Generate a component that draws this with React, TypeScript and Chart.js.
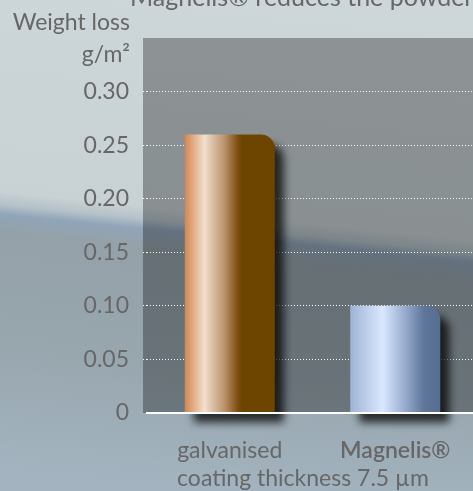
import React, { useEffect, useRef } from "react";
import { Chart, registerables } from "chart.js";

Chart.register(...registerables);

const categories = ["galvanised", "Magnelis®"];
const weightLoss = [0.26, 0.1];
const yMax = 0.35;
const yStep = 0.05;
const titleText = "Magnelis® reduces the powdering";
const yTitleLines = ["Weight loss", "g/m²"];
const xTitleText = "coating thickness 7.5 µm";

const FONT = "Lato, sans-serif";
const TEXT = "#676767";
const BAR_PCT = 0.544;
const FS = 23;

const barStops: [number, string][][] = [
  [
    [0, "#d4864e"],
    [0.22, "#f1dfcf"],
    [0.45, "#b88f66"],
    [0.6, "#7a4a0a"],
    [0.64, "#6e4500"],
    [1, "#6d4400"],
  ],
  [
    [0, "#9fb3d5"],
    [0.36, "#dae8ff"],
    [0.62, "#94a8ca"],
    [0.82, "#5e7699"],
    [1, "#556e92"],
  ],
];

const bgPlugin = {
  id: "bg",
  beforeDraw(chart: any) {
    const { ctx, width, height, chartArea } = chart;
    ctx.save();
    const g = ctx.createLinearGradient(260, 0, 210, height);
    g.addColorStop(0, "#cdd6d8");
    g.addColorStop(0.44, "#c8d1d3");
    g.addColorStop(0.465, "#b5c2c9");
    g.addColorStop(0.485, "#90a5b8");
    g.addColorStop(0.52, "#94a1a9");
    g.addColorStop(0.75, "#98a6ae");
    g.addColorStop(1, "#a3b4c0");
    ctx.fillStyle = g;
    ctx.fillRect(0, 0, width, height);
    ctx.fillStyle = "rgba(0,0,0,0.31)";
    ctx.fillRect(chartArea.left - 4, chartArea.top, width, chartArea.bottom - chartArea.top);
    ctx.restore();
  },
  afterDraw(chart: any) {
    const { ctx, chartArea } = chart;
    ctx.save();
    ctx.fillStyle = TEXT;
    ctx.font = `25px ${FONT}`;
    ctx.textBaseline = "alphabetic";
    ctx.textAlign = "left";
    ctx.fillText(titleText, 130, 6);
    ctx.font = `${FS}px ${FONT}`;
    ctx.textAlign = "right";
    ctx.fillText(yTitleLines[0], 130, 30);
    ctx.fillText(yTitleLines[1], 130, 62);
    ctx.textAlign = "center";
    ctx.textBaseline = "middle";
    ctx.fillText(xTitleText, 303, chartArea.bottom + 66);
    ctx.restore();
  },
};

const shadowPlugin = {
  id: "barShadow",
  beforeDatasetsDraw(chart: any) {
    const ctx = chart.ctx;
    ctx.save();
    ctx.shadowColor = "rgba(0,0,0,0.75)";
    ctx.shadowBlur = 8;
    ctx.shadowOffsetX = 9;
    ctx.shadowOffsetY = 10;
  },
  afterDatasetsDraw(chart: any) {
    chart.ctx.restore();
  },
};

function barFill(c: any) {
  const i = c.dataIndex ?? 0;
  const chart = c.chart;
  const xs = chart.scales && chart.scales.x;
  const stops = barStops[i % barStops.length];
  if (!xs || !chart.chartArea) return stops[0][1];
  const cx = xs.getPixelForValue(i);
  const half = ((xs.width / categories.length) * BAR_PCT) / 2;
  const g = chart.ctx.createLinearGradient(cx - half, 0, cx + half, 0);
  stops.forEach(([o, col]) => g.addColorStop(o, col));
  return g;
}

const hidden = (c: any) =>
  c.tick && (c.tick.value === 0 || c.tick.value >= yMax - 1e-9);

export default function App() {
  const ref = useRef<HTMLCanvasElement>(null);
  useEffect(() => {
    const el = ref.current;
    if (!el) return;
    const chart = new Chart(el, {
      type: "bar",
      data: {
        labels: categories,
        datasets: [
          {
            data: weightLoss,
            backgroundColor: barFill,
            borderWidth: 0,
            borderRadius: { topLeft: 0, topRight: 14, bottomLeft: 0, bottomRight: 0 },
            borderSkipped: false,
            barPercentage: BAR_PCT,
            categoryPercentage: 1,
            clip: false as any,
          },
        ],
      },
      options: {
        responsive: false,
        animation: false,
        devicePixelRatio: 1,
        layout: { padding: { top: 38, right: 2, left: 0, bottom: 0 } },
        plugins: {
          legend: { display: false },
          tooltip: { enabled: false },
          title: { display: false },
        },
        scales: {
          x: {
            grid: { display: false },
            border: { display: true, color: "#ffffff", width: 2, z: 1 },
            ticks: {
              padding: 16,
              color: TEXT,
              font: (c: any) => ({
                family: FONT,
                size: FS,
                weight: c.index === 1 ? "600" : "400",
              }),
            },
            afterFit: (s: any) => {
              s.height = 78;
            },
          },
          y: {
            min: 0,
            max: yMax,
            border: { display: false, dash: [1, 2] },
            grid: {
              color: (c: any) => (hidden(c) ? "rgba(0,0,0,0)" : "rgba(255,255,255,0.95)"),
              tickColor: (c: any) => (hidden(c) ? "rgba(0,0,0,0)" : "rgba(255,255,255,0.95)"),
              lineWidth: 1,
              tickBorderDash: [1, 2],
              drawTicks: true,
              tickLength: 4,
            } as any,
            ticks: {
              stepSize: yStep,
              padding: 14,
              color: TEXT,
              font: { family: FONT, size: FS },
              callback: (v: any) => {
                const n = Number(v);
                if (n >= yMax - 1e-9) return "";
                return n === 0 ? "0" : n.toFixed(2);
              },
            },
            afterFit: (s: any) => {
              s.width = 147;
            },
          },
        },
      },
      plugins: [bgPlugin, shadowPlugin],
    });
    return () => chart.destroy();
  }, []);
  return (
    <div
      style={{
        position: "fixed",
        left: 0,
        top: 0,
        width: 473,
        height: 491,
        overflow: "hidden",
      }}
    >
      <canvas ref={ref} width={480} height={491} style={{ display: "block" }} />
    </div>
  );
}
